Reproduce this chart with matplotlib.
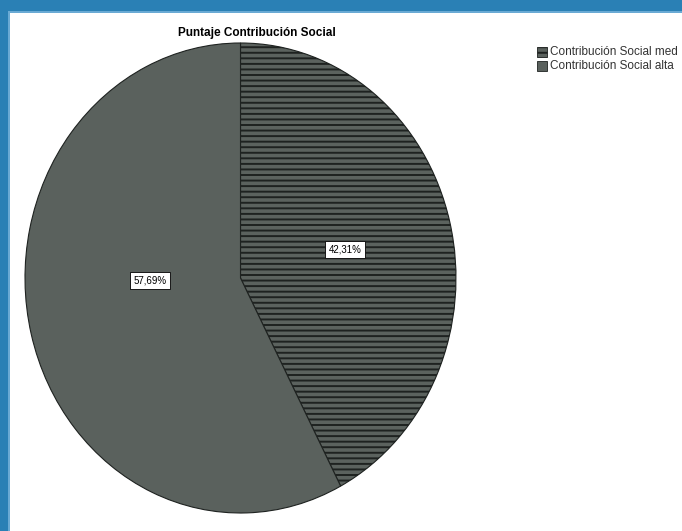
import matplotlib
matplotlib.use("Agg")
import matplotlib.pyplot as plt
from matplotlib.patches import Rectangle
from matplotlib import font_manager

categories = ["Contribución Social media", "Contribución Social alta"]
legend_labels = ["Contribución Social med", "Contribución Social alta"]
values = [42.31, 57.69]
title = "Puntaje Contribución Social"

W, H = 682, 531
DPI = 100
plt.rcParams['font.family'] = ['Liberation Sans', 'DejaVu Sans']
plt.rcParams['hatch.linewidth'] = 1.4
plt.rcParams['hatch.color'] = '#2e3431'

names = {f.name for f in font_manager.fontManager.ttflist}
narrow = 'Liberation Sans Narrow' if 'Liberation Sans Narrow' in names else 'Liberation Sans'

fig = plt.figure(figsize=(W / DPI, H / DPI), dpi=DPI)
fig.patch.set_facecolor('white')

def px(x0, y0, x1, y1):
    return [x0 / W, 1 - y1 / H, (x1 - x0) / W, (y1 - y0) / H]

# blue frame
blue = '#2a80b5'
fig.patches.append(Rectangle((0, 1 - 11 / H), 1, 11 / H, transform=fig.transFigure,
                             facecolor=blue, edgecolor='none'))
fig.patches.append(Rectangle((0, 0), 8 / W, 1, transform=fig.transFigure,
                             facecolor=blue, edgecolor='none'))
fig.patches.append(Rectangle((8 / W, 0), 1.5 / W, 1 - 11 / H, transform=fig.transFigure,
                             facecolor='#6aaad4', edgecolor='none'))
fig.patches.append(Rectangle((8 / W, 1 - 12.5 / H), 1 - 8 / W, 1.5 / H, transform=fig.transFigure,
                             facecolor='#6aaad4', edgecolor='none'))

ax = fig.add_axes(px(25, 43, 456, 513))
colors = ['#5b625e', '#5a615d']
wedges, texts, autotexts = ax.pie(
    values, colors=colors, startangle=90, counterclock=False,
    autopct=lambda p: ('%.2f%%' % p).replace('.', ','), pctdistance=0.5,
    wedgeprops=dict(edgecolor='#1e2220', linewidth=0.8), radius=1.0)
wedges[0].set_hatch('---')
ax.set_xlim(-1, 1)
ax.set_ylim(-1, 1)
ax.set_aspect('auto')
ax.axis('off')

for t in autotexts:
    t.set_fontsize(7)
    t.set_color('black')
    t.set_bbox(dict(boxstyle='square,pad=0.35', facecolor='white', edgecolor='black', linewidth=0.6))
autotexts[1].set_position((-0.42, -0.01))

fig.text(257 / W, 1 - 33 / H, title, ha='center', va='center',
         fontsize=8.5, fontweight='bold', family=['Liberation Sans', 'DejaVu Sans'])

# legend
lax = fig.add_axes(px(536, 44, 682, 74))
lax.axis('off')
lax.set_xlim(536, 682)
lax.set_ylim(74, 44)
rows = [52, 66]
for i, (lab, y) in enumerate(zip(legend_labels, rows)):
    r = Rectangle((537, y - 5), 10, 10, facecolor=colors[i], edgecolor='#1e2220', linewidth=0.6,
                  hatch='---' if i == 0 else None)
    lax.add_patch(r)
    lax.text(550, y, lab, ha='left', va='center', fontsize=8.5 if narrow == 'Liberation Sans' else 9.5,
             family=[narrow, 'DejaVu Sans'], color='#333333')

fig.savefig('out.png', dpi=DPI, facecolor='white')
